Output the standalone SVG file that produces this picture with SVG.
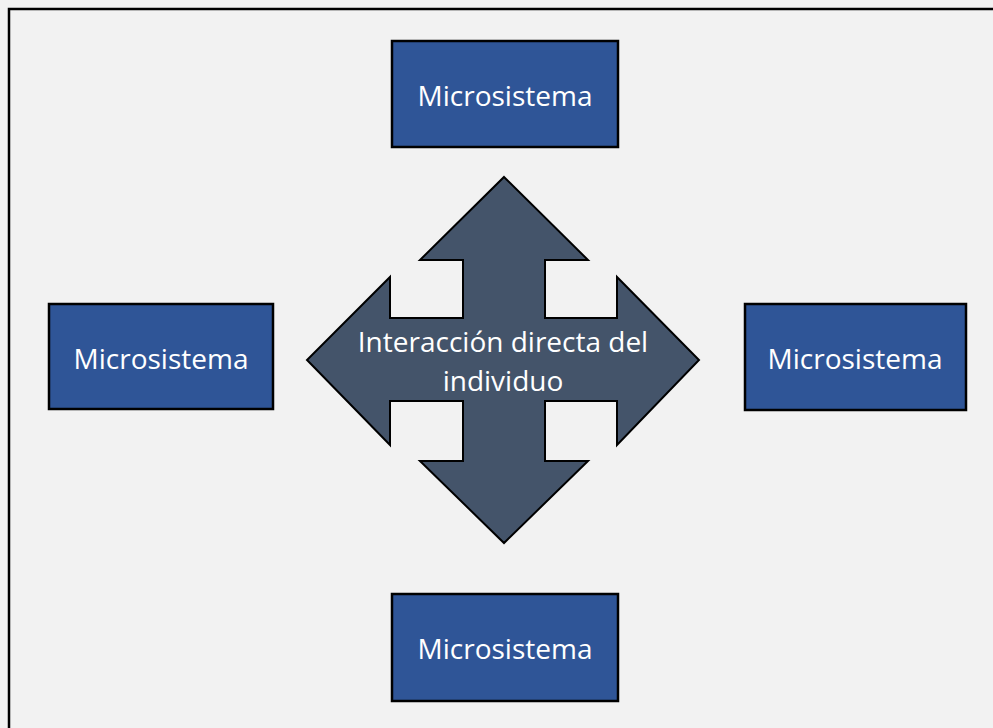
<svg xmlns="http://www.w3.org/2000/svg" width="993" height="728" viewBox="0 0 993 728">
  <style>
    .box { fill: #2f5597; stroke: #000; stroke-width: 2.5; }
    .lbl { fill: #fff; font-family: "Open Sans", "Liberation Sans", sans-serif; font-size: 28px; text-anchor: middle; }
    .arrow { fill: #44546a; stroke: #000; stroke-width: 2; stroke-linejoin: miter; }
  </style>
  <rect x="0" y="0" width="993" height="728" fill="#f2f2f2"/>
  <!-- outer frame -->
  <rect x="9" y="9" width="1000" height="800" fill="#f2f2f2" stroke="#000" stroke-width="2.5"/>

  <!-- central four-way arrow -->
  <g id="center">
    <path class="arrow" d="M504,177 L588,260 L545,260 L545,318 L617,318 L617,277 L699,360 L617,445 L617,401 L545,401 L545,461 L588,461 L504,543 L420,461 L463,461 L463,401 L390,401 L390,445 L307,360 L390,277 L390,318 L463,318 L463,260 L420,260 Z"/>
    <text class="lbl" x="503" y="352">Interacción directa del</text>
    <text class="lbl" x="503" y="391">individuo</text>
  </g>

  <g id="micro-top">
    <rect class="box" x="392" y="41" width="226" height="106"/>
    <text class="lbl" x="505" y="106">Microsistema</text>
  </g>
  <g id="micro-left">
    <rect class="box" x="49" y="304" width="224" height="105"/>
    <text class="lbl" x="161" y="369">Microsistema</text>
  </g>
  <g id="micro-right">
    <rect class="box" x="745" y="304" width="221" height="106"/>
    <text class="lbl" x="855" y="369">Microsistema</text>
  </g>
  <g id="micro-bottom">
    <rect class="box" x="392" y="594" width="226" height="107"/>
    <text class="lbl" x="505" y="659">Microsistema</text>
  </g>

  <g id="connectors"></g>
</svg>
